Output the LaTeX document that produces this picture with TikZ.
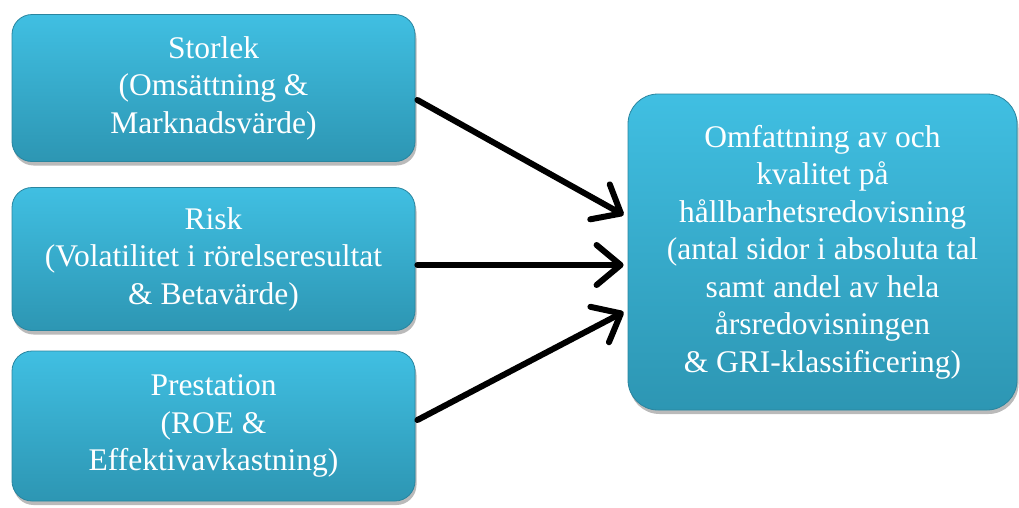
\documentclass[tikz,border=0pt]{standalone}
\usepackage{fontspec}
\setmainfont{Liberation Serif}
\usetikzlibrary{arrows.meta,shadows,calc}
\definecolor{boxtop}{HTML}{40BFE2}
\definecolor{boxbot}{HTML}{2D96B3}
\definecolor{boxedge}{HTML}{2A859F}
\begin{document}
\begin{tikzpicture}[x=1pt,y=-1pt,
  box/.style={rectangle, rounded corners=20pt, top color=boxtop, bottom color=boxbot,
    draw=boxedge, line width=0.8pt, text=white, align=center,
    font=\fontsize{31.5}{37.5}\selectfont, inner sep=0pt,
    drop shadow={shadow xshift=1.5pt, shadow yshift=-4pt, opacity=0.45, fill=black!60}},
  conn/.style={line width=6pt, line cap=round,
    -{Straight Barb[length=24pt,width=40pt,line cap=round,line join=round]}}]
\useasboundingbox (0,0) rectangle (1019,507);
\node[box, minimum width=403pt, minimum height=147pt] (b1) at (213.5,88) {Storlek\\(Omsättning \&\\Marknadsvärde)};
\node[box, minimum width=403pt, minimum height=143pt] (b2) at (213.5,259) {Risk\\(Volatilitet i rörelseresultat\\\& Betavärde)};
\node[box, minimum width=403pt, minimum height=150pt] (b3) at (213.5,426) {Prestation\\(ROE \&\\Effektivavkastning)};
\node[box, rounded corners=30pt, minimum width=389pt, minimum height=316pt] (r) at (822.5,252) {Omfattning av och\\kvalitet på\\hållbarhetsredovisning\\(antal sidor i absoluta tal\\samt andel av hela\\årsredovisningen\\\& GRI-klassificering)};
\draw[conn] ($(b1.east)+(2,12)$) -- ($(r.west)+(-4,-37)$);
\draw[conn] ($(b2.east)+(2,6)$) -- ($(r.west)+(-4,13)$);
\draw[conn] ($(b3.east)+(2,-6)$) -- ($(r.west)+(-4,60)$);
\end{tikzpicture}
\end{document}
